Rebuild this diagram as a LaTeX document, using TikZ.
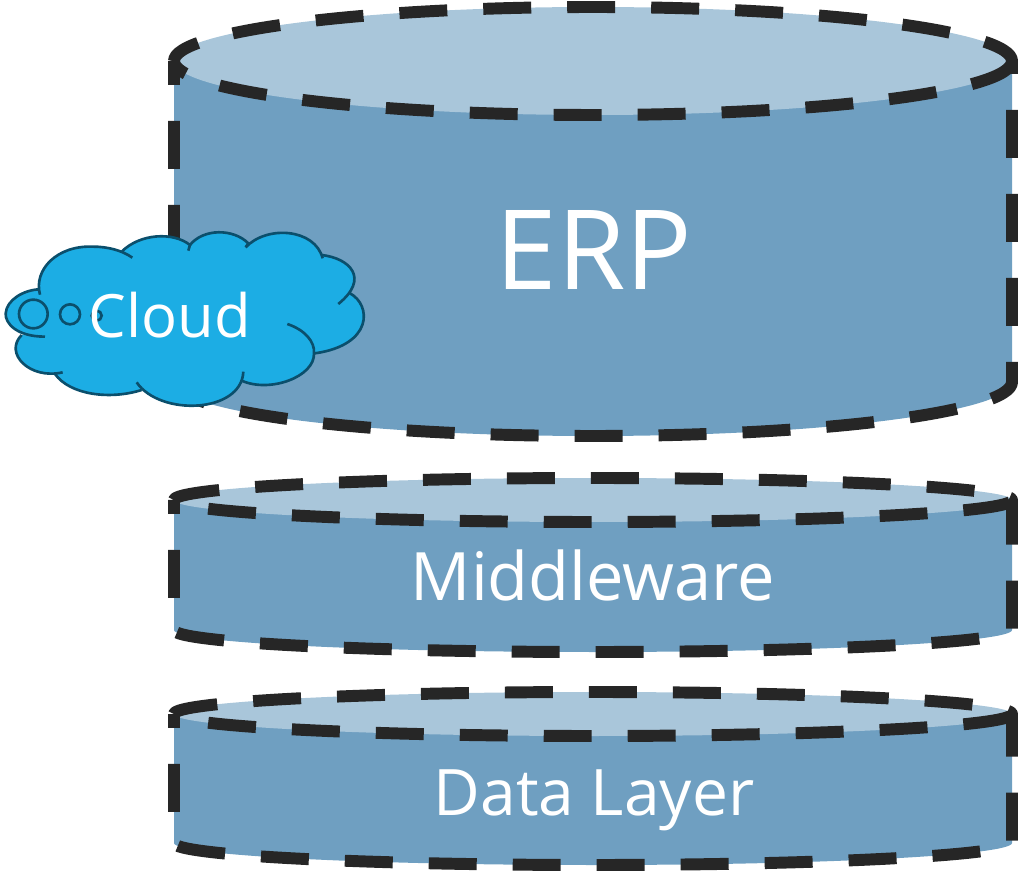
\documentclass[tikz,border=0pt]{standalone}
\usepackage{fontspec}
\setmainfont{Open Sans}
\usetikzlibrary{positioning,calc}
\definecolor{bodyblue}{HTML}{6F9FC1}
\definecolor{lidblue}{HTML}{A9C6DA}
\definecolor{dashgray}{HTML}{262626}
\definecolor{cloudblue}{HTML}{1CADE4}
\definecolor{cloudline}{HTML}{0B4F6C}
\tikzset{
  dashrim/.style={draw=dashgray,line width=6.8pt,line join=round},
  cloudstroke/.style={draw=cloudline,line width=1.5pt},
  lbl/.style={text=white,inner sep=0pt,anchor=base},
}
\begin{document}
\begin{tikzpicture}[x=0.02cm,y=-0.02cm]
    \useasboundingbox (0,0) rectangle (1018,871);

    % cylinders: top y / bottom y / radius / phase side / phase front
    \foreach \ytop/\ybot/\ry/\pside/\pfront in {61/382/54/24/30,500/630/22/34/48,714/843/22/34/48}{
      \coordinate (L) at (174,\ytop);
      \coordinate (B) at (174,\ybot);
      \fill[bodyblue] (L)--(B) arc (180:0:419 and \ry) -- (1012,\ytop) -- cycle;
      \fill[lidblue] (L) arc (180:540:419 and \ry);
      \draw[dashrim,dash pattern=on 27.3pt off 20.5pt,dash phase=\pside pt*0.569]
        (L)--(B) arc (180:0:419 and \ry) -- (1012,\ytop) arc (0:-180:419 and \ry);
      \draw[dashrim,dash pattern=on 27.3pt off 20.5pt,dash phase=\pfront pt*0.569]
        (L) arc (180:0:419 and \ry);
    }

    \node[lbl,font=\fontsize{63}{63}\selectfont] (erp) at (594,290) {ERP};
    \node[lbl,font=\fontsize{38}{38}\selectfont] (middleware) at (593,600) {Middleware};
    \node[lbl,font=\fontsize{36.5}{36.5}\selectfont] (data) at (594,815) {Data Layer};

    % cloud, points taken off the 3x crop
    \begin{scope}[shift={(0,220)},x=0.00667cm,y=-0.00667cm]
      \fill[cloudblue] (120,224) .. controls (100,150) and (170,75) .. (280,80)
        .. controls (320,80) and (365,90) .. (397,113) -- (365,95)
        .. controls (420,40) and (520,35) .. (570,75) -- (565,92) -- (570,75)
        .. controls (610,25) and (700,25) .. (745,70) -- (737,82)
        .. controls (800,15) and (945,25) .. (968,115) -- (965,105)
        .. controls (1050,115) and (1110,175) .. (1015,252) -- (1050,220)
        .. controls (1115,255) and (1120,375) .. (945,400)
        .. controls (945,470) and (810,520) .. (725,482) -- (730,455)
        .. controls (725,580) and (480,590) .. (410,487) -- (425,510)
        .. controls (330,540) and (210,525) .. (165,462) -- (188,457)
        .. controls (90,480) and (10,400) .. (65,345) -- (135,350)
        .. controls (50,350) and (15,310) .. (17,280)
        .. controls (20,240) and (70,210) .. (118,208) -- cycle;
      \draw[cloudstroke] (120,224) .. controls (100,150) and (170,75) .. (280,80)
        .. controls (320,80) and (365,90) .. (397,113);
      \draw[cloudstroke] (365,95) .. controls (420,40) and (520,35) .. (570,75) -- (565,92);
      \draw[cloudstroke] (570,75) .. controls (610,25) and (700,25) .. (745,70) -- (737,82);
      \draw[cloudstroke] (737,82) .. controls (800,15) and (945,25) .. (968,115);
      \draw[cloudstroke] (965,105) .. controls (1050,115) and (1110,175) .. (1015,252);
      \draw[cloudstroke] (1050,220) .. controls (1115,255) and (1120,375) .. (945,400);
      \draw[cloudstroke] (862,312) .. controls (915,330) and (945,365) .. (942,400)
        .. controls (945,470) and (810,520) .. (725,482);
      \draw[cloudstroke] (730,455) .. controls (725,580) and (480,590) .. (410,487);
      \draw[cloudstroke] (425,510) .. controls (330,540) and (210,525) .. (165,462);
      \draw[cloudstroke] (188,457) .. controls (90,480) and (10,400) .. (65,345);
      \draw[cloudstroke] (135,350) .. controls (50,350) and (15,310) .. (17,280)
        .. controls (20,240) and (70,210) .. (118,208);
      \draw[cloudstroke] (100,282) circle (43);
      \draw[cloudstroke] (210,283) circle (30);
      \draw[cloudstroke] (290,287) circle (15);
      \node[lbl,font=\fontsize{34}{34}\selectfont] (cloud) at (510,352) {Cloud};
    \end{scope}
\end{tikzpicture}
\end{document}
